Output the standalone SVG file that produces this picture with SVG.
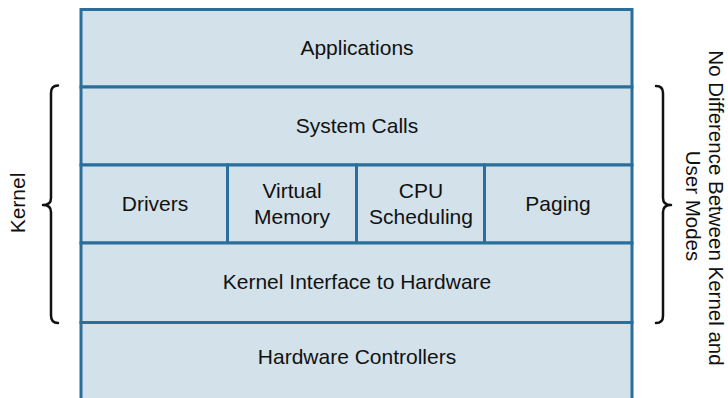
<svg xmlns="http://www.w3.org/2000/svg" width="728" height="398" viewBox="0 0 728 398">
<style>
.cell{fill:#d3e1ea;stroke:#2a6f9c;stroke-width:3}
.t{font-family:"Liberation Sans",Arial,sans-serif;font-size:21px;fill:#111;text-anchor:middle}
.brace{fill:none;stroke:#111;stroke-width:2.5;stroke-linecap:round;stroke-linejoin:round}
</style>
<rect width="728" height="398" fill="#fff"/>
<g id="applications"><rect class="cell" x="81" y="9.5" width="551" height="77.5"/><text class="t" x="357" y="55">Applications</text></g>
<g id="system-calls"><rect class="cell" x="81" y="87" width="551" height="78"/><text class="t" x="357" y="133">System Calls</text></g>
<g id="drivers"><rect class="cell" x="81" y="165" width="146.5" height="78"/><text class="t" x="155" y="211">Drivers</text></g>
<g id="virtual-memory"><rect class="cell" x="227.5" y="165" width="129" height="78"/><text class="t" x="292" y="198">Virtual</text><text class="t" x="292" y="224">Memory</text></g>
<g id="cpu-scheduling"><rect class="cell" x="356.5" y="165" width="128" height="78"/><text class="t" x="421" y="198">CPU</text><text class="t" x="421" y="224">Scheduling</text></g>
<g id="paging"><rect class="cell" x="484.5" y="165" width="147.5" height="78"/><text class="t" x="558" y="211">Paging</text></g>
<g id="kernel-interface"><rect class="cell" x="81" y="243" width="551" height="79.5"/><text class="t" x="357" y="289">Kernel Interface to Hardware</text></g>
<g id="hardware-controllers"><rect class="cell" x="81" y="322.5" width="551" height="80"/><text class="t" x="357" y="364">Hardware Controllers</text></g>
<g id="connectors">
<path class="brace" d="M58,85.5 Q51,85.5 51,93 L51,198 Q51,205 43,205 Q51,205 51,212 L51,315.5 Q51,323 58,323"/>
<path class="brace" d="M656,86 Q663,86 663,93 L663,198 Q663,205 671,205 Q663,205 663,212 L663,316 Q663,323 656,323"/>
</g>
<g id="kernel-label"><text class="t" transform="translate(25,203) rotate(-90)">Kernel</text></g>
<g id="modes-label"><text class="t" style="font-size:20.5px" transform="translate(709,208) rotate(90)">No Difference Between Kernel and</text><text class="t" style="font-size:20.5px" transform="translate(686,206) rotate(90)">User Modes</text></g>
</svg>
